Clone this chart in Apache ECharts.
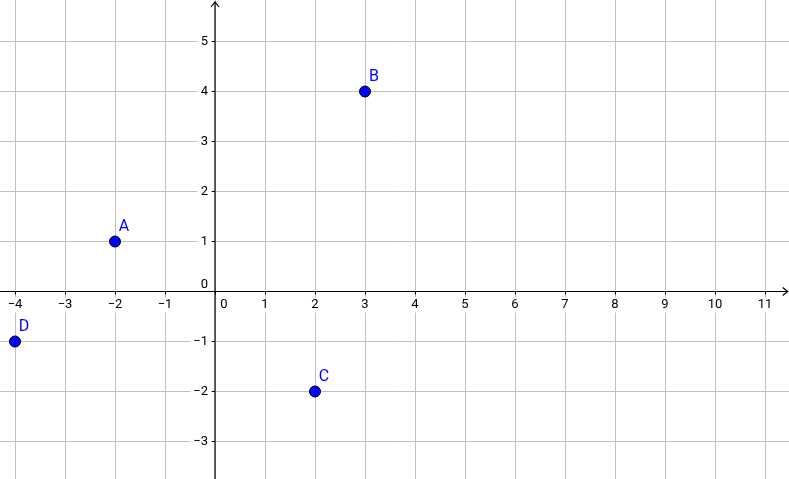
<!DOCTYPE html>
<html>
<head>
<meta charset="utf-8">
<script src="https://cdn.jsdelivr.net/npm/echarts@6/dist/echarts.min.js"></script>
<style>
html,body{margin:0;padding:0;background:#fff;}
#chart{width:789px;height:479px;}
</style>
</head>
<body>
<div id="chart"></div>
<script>
// Data
const pointNames = ['A', 'B', 'C', 'D'];
const pointX = [-2, 3, 2, -4];
const pointY = [1, 4, -2, -1];
// Axis ranges (tick labels every 1 unit)
const xRange = [-5, 12];
const yRange = [-4, 6];

const MINUS = '\u2212';
function fmt(v) { return v < 0 ? MINUS + Math.abs(v) : String(v); }

const chart = echarts.init(document.getElementById('chart'), null, {renderer: 'canvas'});

const FONT = 'Roboto';
const UNIT = 50;
const X0 = 215, Y0 = 291.5;
const gridLeft = X0 + xRange[0] * UNIT;
const gridTop = Y0 - yRange[1] * UNIT;
const gridW = (xRange[1] - xRange[0]) * UNIT;
const gridH = (yRange[1] - yRange[0]) * UNIT;

const option = {
  animation: false,
  backgroundColor: '#ffffff',
  grid: {left: gridLeft, top: gridTop, width: gridW, height: gridH, containLabel: false, outerBoundsMode: 'none'},
  xAxis: {
    type: 'value', min: xRange[0], max: xRange[1], interval: 1,
    position: 'bottom',
    offset: -(gridTop + gridH - Y0),
    axisLine: {show: false, onZero: false},
    axisTick: {show: true, length: 3, lineStyle: {color: '#000'}},
    splitLine: {show: true, lineStyle: {color: '#c0c0c0', width: 1}},
    axisLabel: {
      show: true, margin: 6, fontFamily: FONT, fontSize: 13, color: '#000',
      showMinLabel: true, showMaxLabel: true, hideOverlap: false,
      formatter: function (v) {
        if (v <= xRange[0] || v >= xRange[1]) return '';
        if (v === 0) return '{z|0}';
        return '{n|' + fmt(v) + '}';
      },
      rich: {
        n: {fontFamily: FONT, fontSize: 13, lineHeight: 15, color: '#000', backgroundColor: '#fff', padding: [1, 3, 1, 3]},
        z: {fontFamily: FONT, fontSize: 13, lineHeight: 15, color: '#000', padding: [1, 0, 1, 18]}
      }
    }
  },
  yAxis: {
    type: 'value', min: yRange[0], max: yRange[1], interval: 1,
    position: 'left',
    offset: -(X0 - gridLeft),
    axisLine: {show: false, onZero: false},
    axisTick: {show: true, length: 3, lineStyle: {color: '#000'}},
    splitLine: {show: true, lineStyle: {color: '#c0c0c0', width: 1}},
    axisLabel: {
      show: true, margin: 4, fontFamily: FONT, fontSize: 13, color: '#000',
      showMinLabel: true, showMaxLabel: true, hideOverlap: false,
      formatter: function (v) {
        if (v <= yRange[0] || v >= yRange[1]) return '';
        if (v === 0) return '{z|0}';
        return '{n|' + fmt(v) + '}';
      },
      rich: {
        n: {fontFamily: FONT, fontSize: 13, lineHeight: 15, color: '#000', backgroundColor: '#fff', padding: [1, 3, 1, 3]},
        z: {fontFamily: FONT, fontSize: 13, lineHeight: 15, color: '#000', padding: [0, 3, 14, 3]}
      }
    }
  },
  series: [
    {
      type: 'custom',
      z: 3,
      silent: true,
      clip: false,
      data: [[0, 0]],
      renderItem: function (params, api) {
        const xTip = 11.454, yTip = 5.79;
        const xa = api.coord([xRange[0], 0]);
        const xb = api.coord([xTip, 0]);
        const ya = api.coord([0, yRange[0]]);
        const yb = api.coord([0, yTip]);
        const st = {stroke: '#000', lineWidth: 1.2, fill: null};
        return {
          type: 'group',
          children: [
            {type: 'line', shape: {x1: xa[0], y1: xa[1], x2: xb[0], y2: xb[1]}, style: st},
            {type: 'polyline', shape: {points: [[xb[0] - 5, xb[1] - 4], [xb[0], xb[1]], [xb[0] - 5, xb[1] + 4]]}, style: st},
            {type: 'line', shape: {x1: ya[0], y1: ya[1], x2: yb[0], y2: yb[1]}, style: st},
            {type: 'polyline', shape: {points: [[yb[0] - 4, yb[1] + 5], [yb[0], yb[1]], [yb[0] + 4, yb[1] + 5]]}, style: st}
          ]
        };
      }
    },
    {
      type: 'scatter',
      z: 4,
      symbol: 'circle',
      symbolSize: 11,
      itemStyle: {color: '#0000ff', borderColor: '#000000', borderWidth: 1, opacity: 1},
      label: {
        show: true, formatter: '{b}', position: 'top', distance: 1, offset: [9, 0],
        fontFamily: FONT, fontSize: 16, lineHeight: 16, color: '#0000ff'
      },
      emphasis: {disabled: true},
      data: pointX.map(function (x, i) { return {name: pointNames[i], value: [x, pointY[i]]}; })
    }
  ]
};
chart.setOption(option);
</script>
</body>
</html>
